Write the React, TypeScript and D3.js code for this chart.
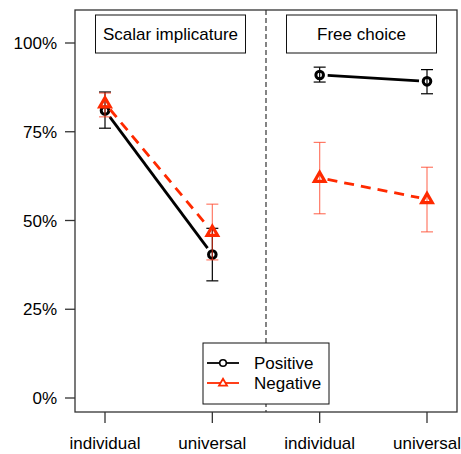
import React, { useEffect, useRef } from 'react';
import * as d3 from 'd3';

const conditions = ['si-individual', 'si-universal', 'fc-individual', 'fc-universal'];
const tickLabels = ['individual', 'universal', 'individual', 'universal'];
const panels = ['Scalar implicature', 'Free choice'];
const yTicks = [0, 0.25, 0.5, 0.75, 1];

const positiveMean = [0.81, 0.404, 0.91, 0.892];
const positiveLow = [0.76, 0.33, 0.89, 0.857];
const positiveHigh = [0.862, 0.478, 0.932, 0.925];

const negativeMean = [0.83, 0.468, 0.62, 0.56];
const negativeLow = [0.792, 0.389, 0.519, 0.468];
const negativeHigh = [0.859, 0.546, 0.72, 0.65];

const RED = '#ff2a00';
const FONT = '"Liberation Sans", Arial, Helvetica, sans-serif';
const FS = 17;

const App = () => {
  const chartRef = useRef(null);

  useEffect(() => {
    const svg = d3.select(chartRef.current);
    svg.selectAll('*').remove();

    const box = { left: 75, right: 457, top: 10, bottom: 412 };

    const x = d3.scalePoint().domain(conditions).range([105, 427]);
    const y = d3.scaleLinear().domain([0, 1]).range([398, 43]);

    // plot frame
    svg.append('rect')
      .attr('x', box.left).attr('y', box.top)
      .attr('width', box.right - box.left).attr('height', box.bottom - box.top)
      .attr('fill', 'none').attr('stroke', '#333').attr('stroke-width', 1.3);

    // y axis
    const yAxis = svg.append('g');
    yTicks.forEach(t => {
      yAxis.append('line')
        .attr('x1', box.left - 10).attr('x2', box.left)
        .attr('y1', y(t)).attr('y2', y(t))
        .attr('stroke', '#333').attr('stroke-width', 1.3);
      yAxis.append('text')
        .attr('x', 57).attr('y', y(t)).attr('dy', '0.36em')
        .attr('text-anchor', 'end')
        .attr('font-family', FONT).attr('font-size', FS)
        .text(d3.format('.0%')(t));
    });

    // x axis
    const xAxis = svg.append('g');
    conditions.forEach((c, i) => {
      xAxis.append('line')
        .attr('x1', x(c)).attr('x2', x(c))
        .attr('y1', box.bottom).attr('y2', box.bottom + 11)
        .attr('stroke', '#333').attr('stroke-width', 1.3);
      xAxis.append('text')
        .attr('x', x(c)).attr('y', 449)
        .attr('text-anchor', 'middle')
        .attr('font-family', FONT).attr('font-size', FS)
        .text(tickLabels[i]);
    });

    // separator between panels
    const midX = (x(conditions[1]) + x(conditions[2])) / 2;
    svg.append('line')
      .attr('x1', midX).attr('x2', midX)
      .attr('y1', box.top).attr('y2', box.bottom)
      .attr('stroke', '#333').attr('stroke-width', 1.2)
      .attr('stroke-dasharray', '5,3');

    // panel labels, centred in each half of the frame
    const panelCentres = [(box.left + midX) / 2, (midX + box.right) / 2];
    panels.forEach((p, i) => {
      const cx = panelCentres[i];
      svg.append('rect')
        .attr('x', cx - 75).attr('y', 15)
        .attr('width', 150).attr('height', 38)
        .attr('fill', 'white').attr('stroke', '#111').attr('stroke-width', 1);
      svg.append('text')
        .attr('x', cx).attr('y', 34).attr('dy', '0.36em')
        .attr('text-anchor', 'middle')
        .attr('font-family', FONT).attr('font-size', FS)
        .text(p);
    });

    const gapLine = (g, means, color, width, dash) => {
      [[0, 1], [2, 3]].forEach(([a, b]) => {
        const x1 = x(conditions[a]), y1 = y(means[a]);
        const x2 = x(conditions[b]), y2 = y(means[b]);
        const len = Math.hypot(x2 - x1, y2 - y1);
        const ux = (x2 - x1) / len, uy = (y2 - y1) / len;
        const gap = 8;
        g.append('line')
          .attr('x1', x1 + ux * gap).attr('y1', y1 + uy * gap)
          .attr('x2', x2 - ux * gap).attr('y2', y2 - uy * gap)
          .attr('stroke', color).attr('stroke-width', width)
          .attr('stroke-dasharray', dash);
      });
    };

    const errorBars = (g, low, high, color) => {
      conditions.forEach((c, i) => {
        const cx = x(c);
        g.append('line')
          .attr('x1', cx).attr('x2', cx)
          .attr('y1', y(low[i])).attr('y2', y(high[i]))
          .attr('stroke', color).attr('stroke-width', 1.2);
        [low[i], high[i]].forEach(v => {
          g.append('line')
            .attr('x1', cx - 6).attr('x2', cx + 6)
            .attr('y1', y(v)).attr('y2', y(v))
            .attr('stroke', color).attr('stroke-width', 1.2);
        });
      });
    };

    const tri = (cx, cy, s) => {
      const h = s * Math.sqrt(3) / 2;
      return `M${cx},${cy - h * 0.62}L${cx + s / 2},${cy + h * 0.38}L${cx - s / 2},${cy + h * 0.38}Z`;
    };

    // positive series
    const pos = svg.append('g');
    gapLine(pos, positiveMean, '#000', 2.8, null);
    errorBars(pos, positiveLow, positiveHigh, '#000');
    conditions.forEach((c, i) => {
      pos.append('circle')
        .attr('cx', x(c)).attr('cy', y(positiveMean[i])).attr('r', 3.8)
        .attr('fill', 'none').attr('stroke', '#000').attr('stroke-width', 3);
    });

    // negative series
    const neg = svg.append('g');
    gapLine(neg, negativeMean, RED, 2.8, '10,7');
    errorBars(neg, negativeLow, negativeHigh, 'rgba(255,50,20,0.65)');
    conditions.forEach((c, i) => {
      neg.append('path')
        .attr('d', tri(x(c), y(negativeMean[i]), 10.5))
        .attr('fill', 'none').attr('stroke', RED).attr('stroke-width', 3.2)
        .attr('stroke-linejoin', 'miter');
    });

    // legend
    const lg = svg.append('g');
    lg.append('rect')
      .attr('x', 203).attr('y', 343).attr('width', 126).attr('height', 61)
      .attr('fill', 'white').attr('stroke', '#111').attr('stroke-width', 1);
    const items = [
      { label: 'Positive', color: '#000', marker: 'circle', yy: 363 },
      { label: 'Negative', color: RED, marker: 'tri', yy: 383 },
    ];
    items.forEach(it => {
      lg.append('line')
        .attr('x1', 207).attr('x2', 239).attr('y1', it.yy).attr('y2', it.yy)
        .attr('stroke', it.color).attr('stroke-width', 1.8);
      if (it.marker === 'circle') {
        lg.append('circle')
          .attr('cx', 223).attr('cy', it.yy).attr('r', 3.3)
          .attr('fill', 'white').attr('stroke', it.color).attr('stroke-width', 1.6);
      } else {
        lg.append('path')
          .attr('d', tri(223, it.yy, 8))
          .attr('fill', 'white').attr('stroke', it.color).attr('stroke-width', 1.8);
      }
      lg.append('text')
        .attr('x', 254).attr('y', it.yy).attr('dy', '0.36em')
        .attr('font-family', FONT).attr('font-size', FS)
        .text(it.label);
    });
  }, []);

  return (
    <svg ref={chartRef} width={461} height={454}
      style={{ position: 'absolute', left: 0, top: 0, background: 'white' }} />
  );
};

export default App;
